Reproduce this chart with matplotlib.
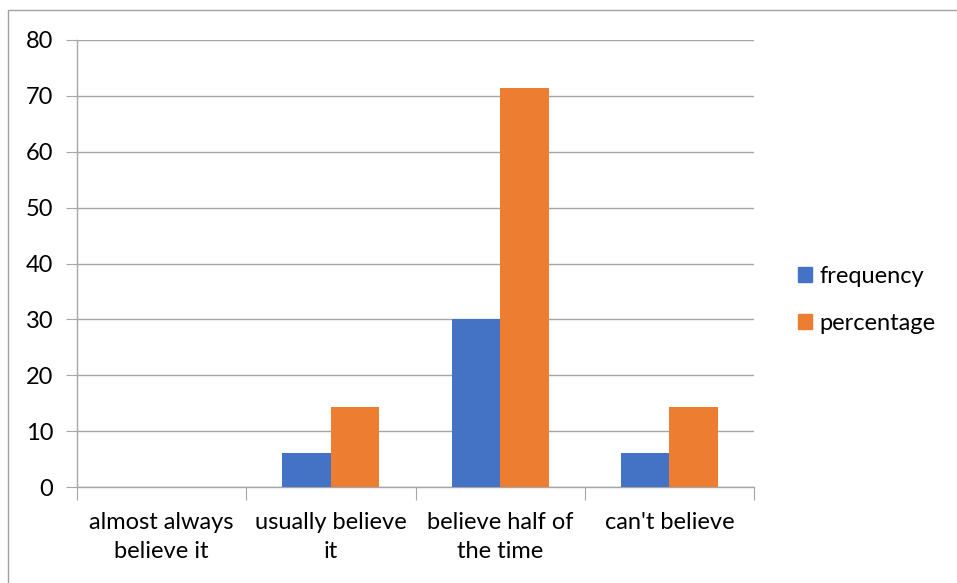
import numpy as np
import matplotlib.pyplot as plt
from matplotlib.patches import Patch, Rectangle

plt.rcParams['font.family'] = ['Lato', 'DejaVu Sans']

# categories and the two series
categories = ['almost always\nbelieve it', 'usually believe\nit', 'believe half of\nthe time', "can't believe"]
frequency = [0, 6, 30, 6]
percentage = [0, 14.3, 71.4, 14.3]

blue = '#4472C4'
orange = '#ED7D31'
grid_col = '#A6A6A6'

fig = plt.figure(figsize=(9.57, 5.83), dpi=100)
ax = fig.add_axes([77 / 957, 1 - 487 / 583, (754 - 77) / 957, (487 - 40) / 583])

# outer chart frame
fig.patches.append(Rectangle((8 / 957, -0.01), 1.0, 1 - 10 / 583 + 0.01, transform=fig.transFigure,
                             fill=False, edgecolor='#A0A0A0', linewidth=1.0))

x = np.arange(len(categories))
w = 0.287
ax.bar(x - w / 2, frequency, w, color=blue, label='frequency', zorder=3)
ax.bar(x + w / 2, percentage, w, color=orange, label='percentage', zorder=3)

ax.set_xlim(-0.5, len(categories) - 0.5)
ax.set_ylim(0, 80)
ax.set_yticks(np.arange(0, 81, 10))
ax.yaxis.grid(True, color=grid_col, linewidth=1.0, zorder=0)

# category labels centred, tick marks on the boundaries
ax.set_xticks(np.arange(-0.5, len(categories), 1.0))
ax.set_xticklabels([])
ax.set_xticks(x, minor=True)
ax.set_xticklabels(categories, minor=True, fontsize=17, linespacing=1.45)
ax.tick_params(axis='x', which='minor', length=0, pad=18)
ax.tick_params(axis='x', which='major', length=9, color=grid_col, direction='out')
ax.tick_params(axis='y', length=8, color=grid_col, labelsize=17, pad=9)

for s in ['top', 'right']:
    ax.spines[s].set_visible(False)
for s in ['left', 'bottom']:
    ax.spines[s].set_color(grid_col)
    ax.spines[s].set_linewidth(1.0)

handles = [Patch(color=blue, label='frequency'), Patch(color=orange, label='percentage')]
fig.legend(handles=handles, loc='center left', bbox_to_anchor=(798 / 957, 1 - 300 / 583),
           frameon=False, fontsize=17, handlelength=0.6, handleheight=0.6,
           handletextpad=0.3, labelspacing=1.1, borderpad=0, borderaxespad=0)

fig.savefig('out.png', dpi=100)
